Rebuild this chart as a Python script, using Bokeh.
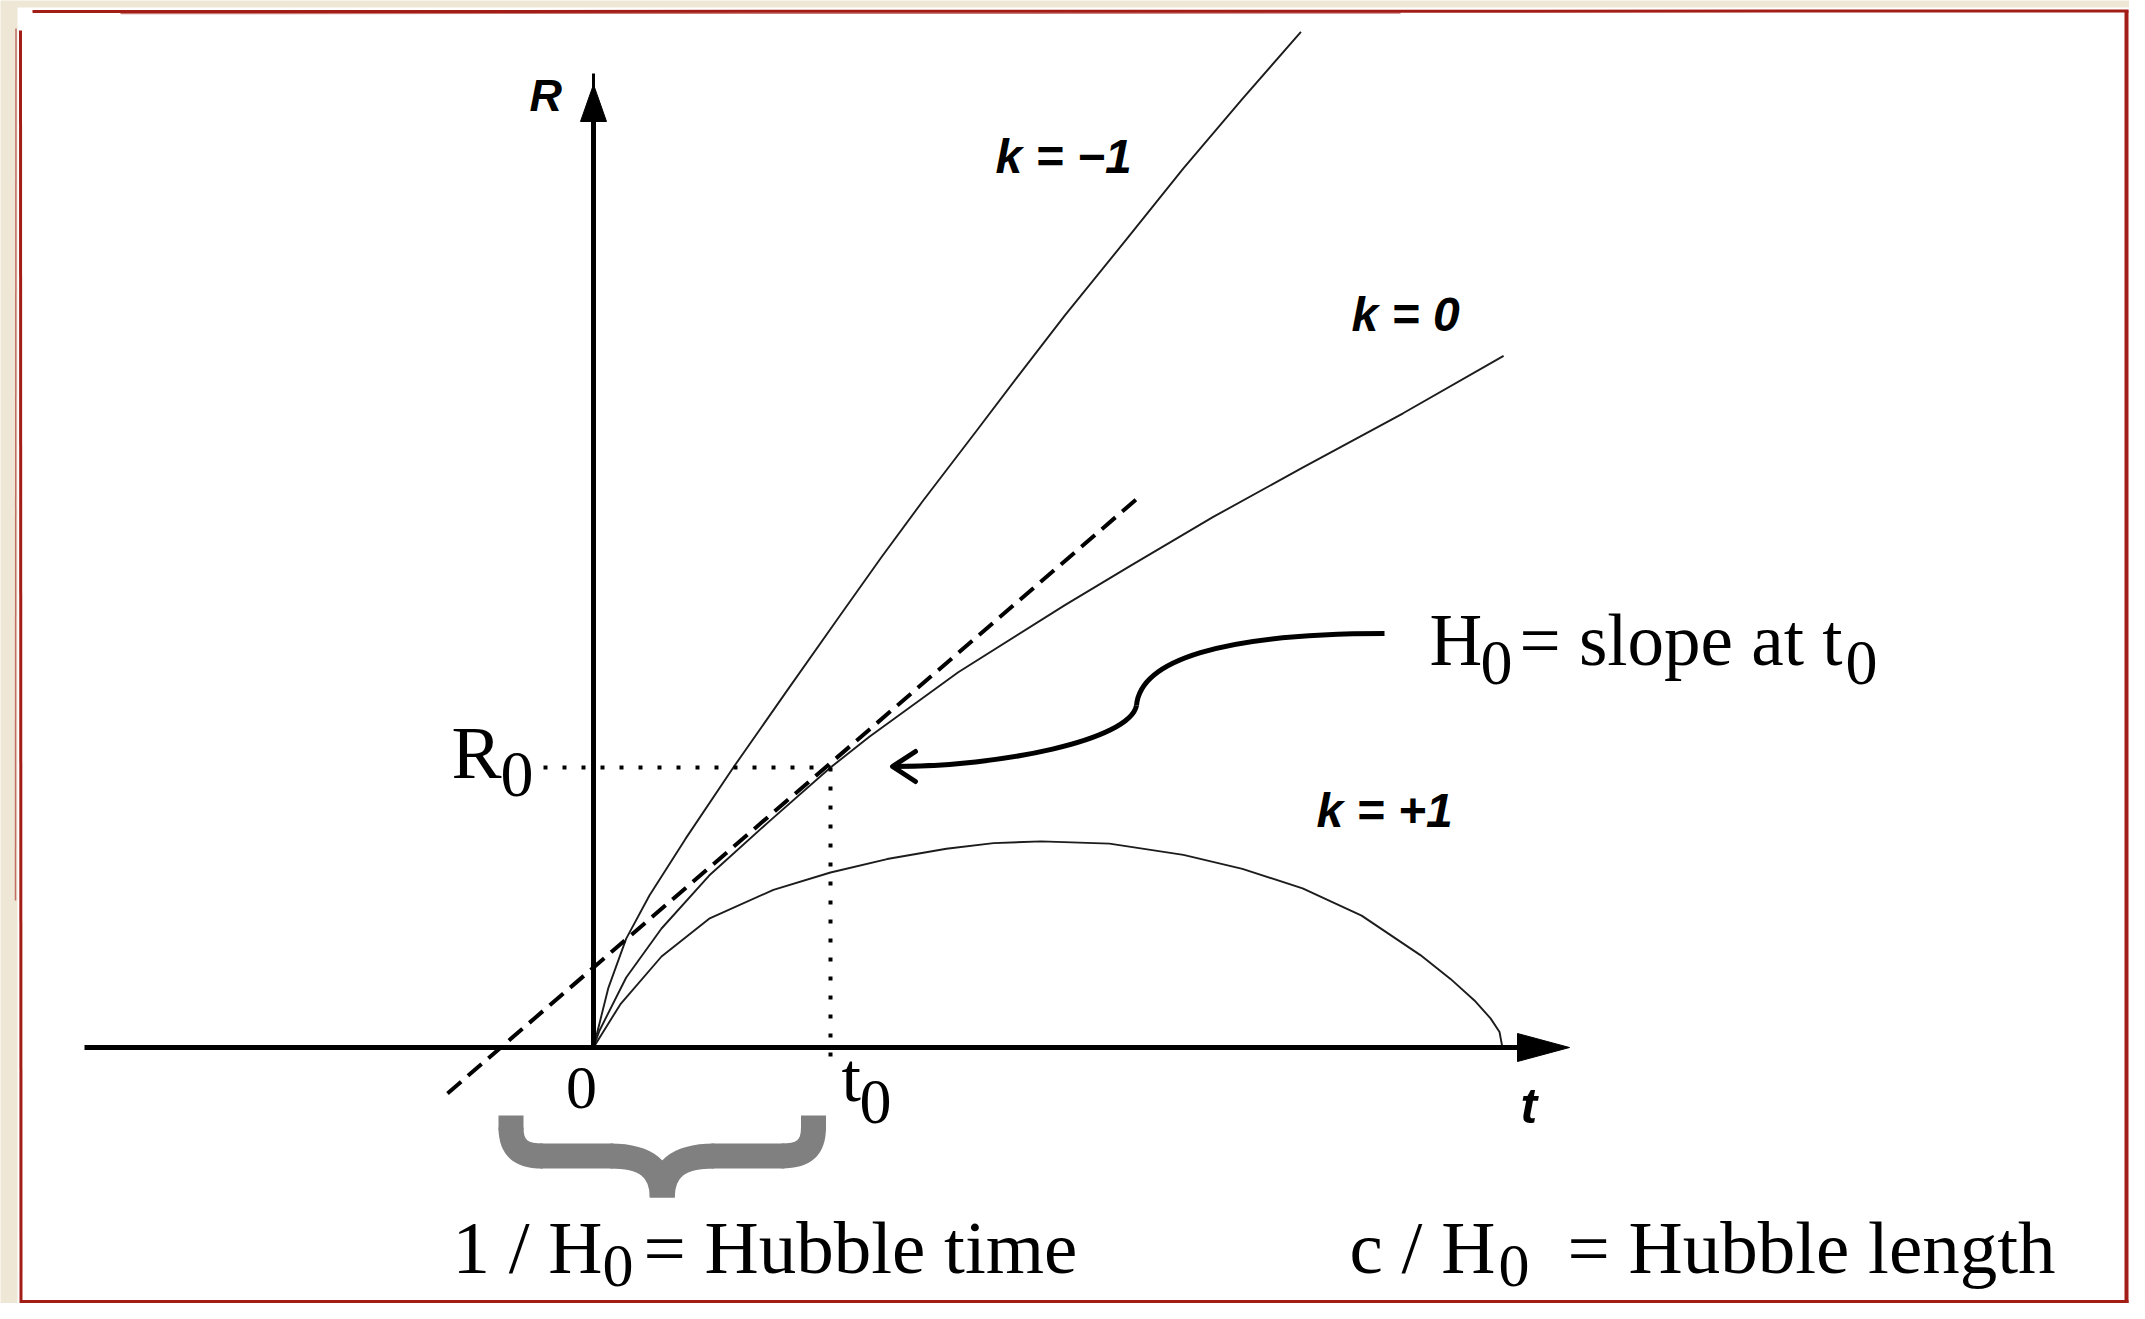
from bokeh.plotting import figure
from bokeh.models import Range1d, Label
from bokeh.embed import file_html
from bokeh.resources import INLINE

# ---------------- data (t in units of t0, R in units of R0) ----------------
K_NEG_T = [0, 0.062, 0.138, 0.236, 0.388, 0.59, 0.813, 1.038, 1.214, 1.388, 1.614, 1.789, 1.989, 2.241, 2.489, 2.738, 2.985]
K_NEG_R = [0, 0.211, 0.389, 0.543, 0.745, 1.0, 1.27, 1.54, 1.75, 1.95, 2.2, 2.395, 2.615, 2.878, 3.14, 3.388, 3.627]

K_ZERO_T = [0, 0.025, 0.138, 0.287, 0.488, 0.738, 1.0, 1.164, 1.539, 1.989, 2.265, 2.615, 2.99, 3.416, 3.84]
K_ZERO_R = [0, 0.06, 0.25, 0.425, 0.614, 0.805, 1.0, 1.11, 1.34, 1.58, 1.72, 1.895, 2.07, 2.265, 2.47]

K_POS_T = [0, 0.113, 0.287, 0.488, 0.759, 1.0, 1.239, 1.489, 1.688, 1.889, 2.177, 2.489, 2.738, 2.992, 3.241, 3.489, 3.616, 3.717, 3.785, 3.823, 3.835]
K_POS_R = [0, 0.154, 0.325, 0.46, 0.563, 0.625, 0.673, 0.71, 0.73, 0.736, 0.728, 0.688, 0.638, 0.568, 0.471, 0.33, 0.245, 0.168, 0.104, 0.055, 0]

TANGENT_T = [-0.616, 2.295]
TANGENT_R = [-0.164, 1.961]

T0 = 1.0
R0 = 1.0
CURVE_LABELS = ["k = \u22121", "k = 0", "k = +1"]

# ---------------- layout (reference page pixels) ----------------
W, H = 2129, 1303
OFF = 0
OX, OY = 593.0, 1047.0      # origin on the page
TU, RU = 237.0, 280.0       # pixels per unit of t and R

def tx(X):
    return (X - OX) / TU

def ry(Y):
    return (OY - Y) / RU

BEIGE = "#efe7d6"
RED = "#a31d17"
GRAY = "#808080"
SERIF = "Liberation Serif"
SANS = "Liberation Sans"

p = figure(width=W, height=H, output_backend="svg", toolbar_location=None,
           x_range=Range1d(tx(OFF), tx(OFF + W)),
           y_range=Range1d(ry(OFF + H), ry(OFF)),
           x_axis_type=None, y_axis_type=None,
           min_border=0, min_border_left=0, min_border_right=0,
           min_border_top=0, min_border_bottom=0,
           background_fill_color=BEIGE, border_fill_color=BEIGE,
           outline_line_color=None)
p.xgrid.grid_line_color = None
p.ygrid.grid_line_color = None

# white panel with sketchy red frame
p.quad(left=tx(17), right=tx(2200), top=ry(7), bottom=ry(1400),
       fill_color="white", line_color=None)
p.line([tx(32), tx(2128)], [ry(11), ry(10.5)], line_color=RED, line_width=3)
p.line([tx(120), tx(1400)], [ry(13), ry(12.5)], line_color=RED, line_width=1.5, line_alpha=0.6)
p.line([tx(20), tx(20.5)], [ry(30), ry(1303)], line_color=RED, line_width=3)
p.line([tx(15.5), tx(15)], [ry(28), ry(900)], line_color=RED, line_width=1.5, line_alpha=0.6)
p.line([tx(2126), tx(2126)], [ry(10), ry(1303)], line_color=RED, line_width=4)
p.line([tx(20), tx(2128)], [ry(1301), ry(1301)], line_color=RED, line_width=3)

# curves
curve_kw = dict(line_color="#1c1c1c", line_width=1.9, line_join="round")
p.line(K_NEG_T, K_NEG_R, **curve_kw)
p.line(K_ZERO_T, K_ZERO_R, **curve_kw)
p.line(K_POS_T, K_POS_R, **curve_kw)

# tangent (dashed)
p.line(TANGENT_T, TANGENT_R, line_color="black", line_width=4, line_dash="18 9")

# dotted guides to R0 and t0
p.line([tx(543), T0], [R0, R0], line_color="black", line_width=4, line_dash="4 15", line_cap="butt")
p.line([T0, T0], [R0, ry(1060)], line_color="black", line_width=4, line_dash="4 15", line_cap="butt")

# axes with arrowheads
p.line([tx(84), tx(1520)], [0, 0], line_color="black", line_width=5)
p.patch([tx(1517), tx(1517), tx(1569)], [ry(1033), ry(1061), ry(1047)], fill_color="black", line_color="black", line_width=1)
p.line([0, 0], [0, ry(118)], line_color="black", line_width=5)
p.line([0, 0], [ry(118), ry(73)], line_color="black", line_width=3)
p.patch([tx(580), tx(606), tx(593)], [ry(121), ry(121), ry(84)], fill_color="black", line_color="black", line_width=1)

# curved pointer arrow from "H0 = slope at t0"
p.bezier(x0=[tx(1384), tx(1136)], y0=[ry(633), ry(705)],
         x1=[tx(1136), tx(893)], y1=[ry(705), ry(766)],
         cx0=[tx(1220), tx(1129)], cy0=[ry(633), ry(740)],
         cx1=[tx(1140), tx(1000)], cy1=[ry(660), ry(766)],
         line_color="black", line_width=5)
p.multi_line([[tx(915), tx(892), tx(915)]], [[ry(751), ry(766), ry(781)]],
             line_color="black", line_width=5, line_cap="round", line_join="round")

# gray brace under 0 .. t0 (segments overlap slightly so no seams show)
BW = 25
MID = 661.75
for (ax, d) in ((510.5, 1), (813.0, -1)):
    p.bezier(x0=[tx(ax)], y0=[ry(1127)], x1=[tx(ax + d * 32)], y1=[ry(1155.5)],
             cx0=[tx(ax)], cy0=[ry(1149)], cx1=[tx(ax + d * 12)], cy1=[ry(1155.5)],
             line_color=GRAY, line_width=BW, line_cap="butt")
    p.bezier(x0=[tx(MID - d * 52)], y0=[ry(1155.5)], x1=[tx(MID)], y1=[ry(1197)],
             cx0=[tx(MID - d * 17)], cy0=[ry(1155.5)], cx1=[tx(MID)], cy1=[ry(1168)],
             line_color=GRAY, line_width=BW, line_cap="butt")
    p.line([tx(ax), tx(ax)], [ry(1115), ry(1130)], line_color=GRAY, line_width=BW, line_cap="butt")
    p.line([tx(ax + d * 29), tx(MID - d * 49)], [ry(1155.5), ry(1155.5)], line_color=GRAY, line_width=BW, line_cap="butt")

# ---------------- texts ----------------
BASE_FIX = 0.37   # measured shift of the rendered baseline, in em

def lab(X, Y, text, size, font=SERIF, style="normal", align="left"):
    p.add_layout(Label(x=tx(X), y=ry(Y - BASE_FIX * size), text=text, text_font=font,
                       text_font_size=f"{size}px", text_font_style=style,
                       text_color="black", text_align=align,
                       text_baseline="alphabetic"))

# axis names and curve labels (sans, bold italic)
lab(529, 112, "R", 45, SANS, "bold italic")
lab(1520, 1124, "t", 50, SANS, "bold italic")
lab(995, 174, CURVE_LABELS[0], 48, SANS, "bold italic")
lab(1351, 332, CURVE_LABELS[1], 48, SANS, "bold italic")
lab(1316, 828, CURVE_LABELS[2], 48, SANS, "bold italic")

# R0, 0, t0
lab(451, 780, "R", 75)
lab(500, 798, "0", 66)
lab(581, 1110, "0", 62, align="center")
lab(841, 1103, "t", 70)
lab(859, 1125, "0", 64)

# H0 = slope at t0
lab(1429, 667, "H", 73)
lab(1480, 686, "0", 64)
lab(1519, 667, "= slope at t", 73)
lab(1845, 686, "0", 64)

# bottom captions
lab(452, 1275, "1 / H", 75)
lab(602, 1288, "0", 62)
lab(643, 1275, "= Hubble time", 75)

lab(1349, 1275, "c / H", 75)
lab(1498, 1288, "0", 62)
lab(1567, 1275, "= Hubble length", 75)

open("out.html", "w").write(file_html(p, INLINE))
